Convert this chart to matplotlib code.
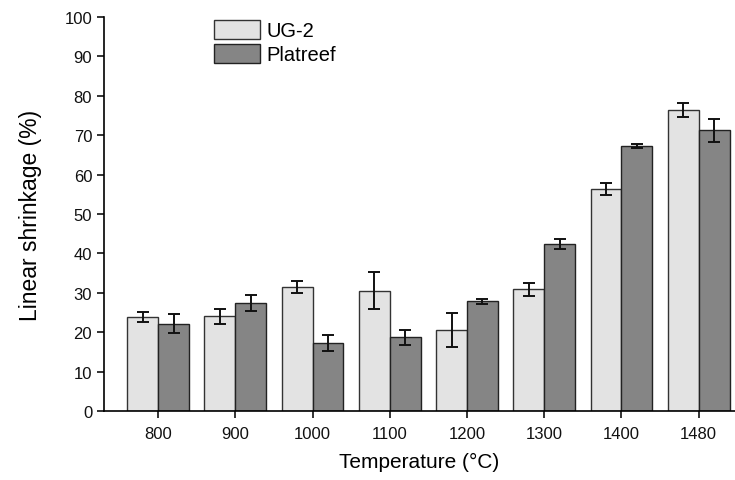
import numpy as np
import matplotlib.pyplot as plt

plt.rcParams['font.family'] = ['Liberation Sans', 'DejaVu Sans']

temps = ['800', '900', '1000', '1100', '1200', '1300', '1400', '1480']
ug2 = [23.9, 24.0, 31.5, 30.5, 20.6, 30.9, 56.4, 76.4]
ug2_err = [1.3, 1.8, 1.5, 4.7, 4.3, 1.7, 1.5, 1.9]
platreef = [22.2, 27.4, 17.3, 18.7, 27.8, 42.4, 67.3, 71.2]
platreef_err = [2.5, 2.0, 2.1, 1.9, 0.7, 1.3, 0.5, 2.8]

fig = plt.figure(figsize=(7.35, 4.81), dpi=100)
ax = fig.add_axes([0.1415, 0.1435, 0.8585, 0.819])

x = np.arange(len(temps))
w = 0.4
err_kw = dict(ecolor='#111111', elinewidth=1.4, capsize=4, capthick=1.4)
ax.bar(x - w / 2, ug2, w, yerr=ug2_err, color='#e3e3e3', edgecolor='#333333',
       linewidth=1, label='UG-2', error_kw=err_kw)
ax.bar(x + w / 2, platreef, w, yerr=platreef_err, color='#858585', edgecolor='#222222',
       linewidth=1, label='Platreef', error_kw=err_kw)

ax.set_xlim(-0.70, 0.47 + len(temps) - 1)
ax.set_ylim(0, 100)
ax.set_yticks(range(0, 101, 10))
ax.set_xticks(x)
ax.set_xticklabels(temps)

ax.spines['top'].set_visible(False)
ax.spines['right'].set_visible(False)
ax.spines['left'].set_linewidth(1.2)
ax.spines['bottom'].set_linewidth(1.2)
ax.tick_params(labelsize=12, width=1.2, length=5, colors='#111111')
ax.tick_params(axis='x', pad=6)

ax.set_xlabel('Temperature (°C)', fontsize=15, labelpad=8)
ax.set_ylabel('Linear shrinkage (%)', fontsize=16.5, labelpad=16)

ax.legend(loc='upper left', bbox_to_anchor=(0.161, 1.013), frameon=False, fontsize=14.5,
          handlelength=2.3, handleheight=1.1, handletextpad=0.3, labelspacing=0.15,
          borderaxespad=0)

plt.savefig('out.png', dpi=100)
